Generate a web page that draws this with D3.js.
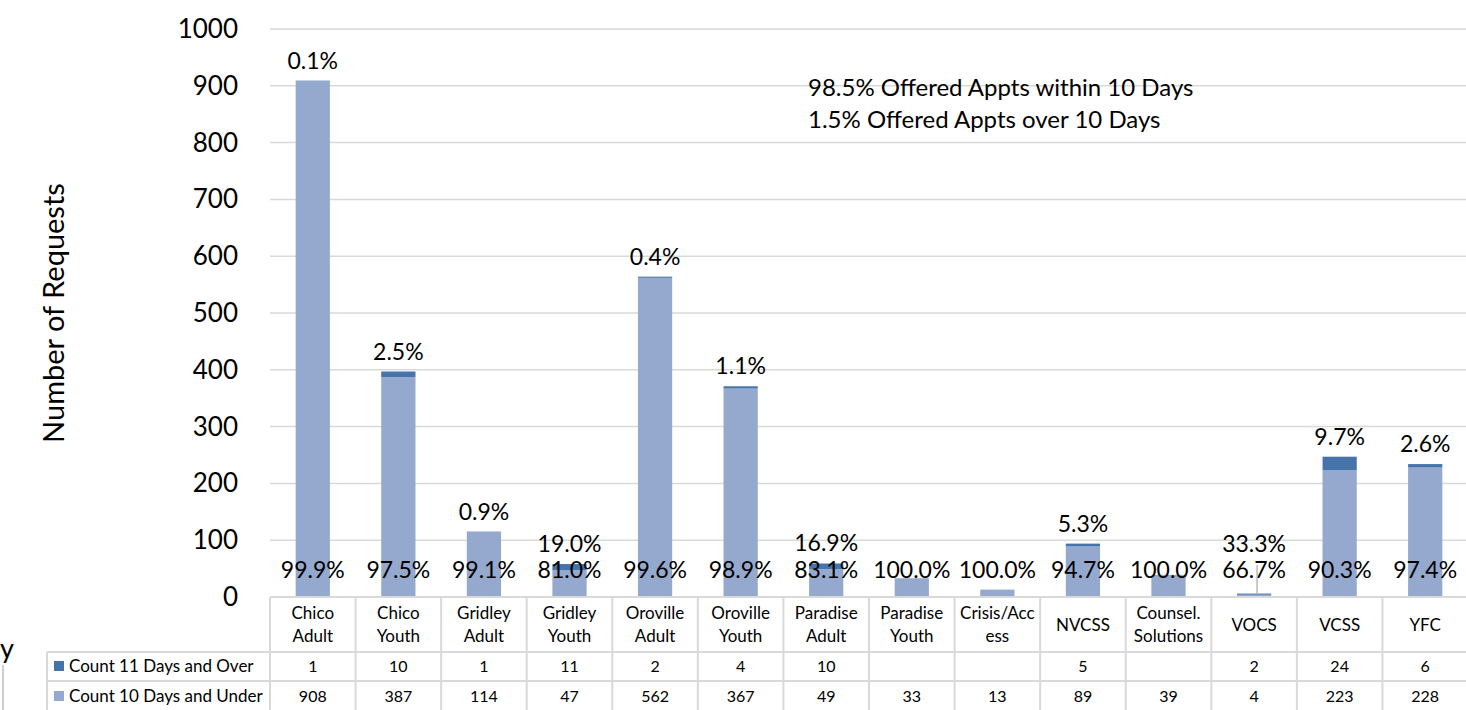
<!DOCTYPE html>
<html>
<head>
<meta charset="utf-8">
<script src="https://cdn.jsdelivr.net/npm/d3@7"></script>
<style>
  body { margin: 0; background: #fff; }
  svg { display: block; }
</style>
</head>
<body>
<script>
// chart data
const categories = ["Chico Adult", "Chico Youth", "Gridley Adult", "Gridley Youth", "Oroville Adult",
  "Oroville Youth", "Paradise Adult", "Paradise Youth", "Crisis/Access", "NVCSS",
  "Counsel. Solutions", "VOCS", "VCSS", "YFC"];
const categoryLines = [["Chico", "Adult"], ["Chico", "Youth"], ["Gridley", "Adult"], ["Gridley", "Youth"],
  ["Oroville", "Adult"], ["Oroville", "Youth"], ["Paradise", "Adult"], ["Paradise", "Youth"],
  ["Crisis/Acc", "ess"], ["NVCSS"], ["Counsel.", "Solutions"], ["VOCS"], ["VCSS"], ["YFC"]];
const over10 = [1, 10, 1, 11, 2, 4, 10, null, null, 5, null, 2, 24, 6];
const under10 = [908, 387, 114, 47, 562, 367, 49, 33, 13, 89, 39, 4, 223, 228];
const seriesNames = ["Count 11 Days and Over", "Count 10 Days and Under"];
const yTicks = [0, 100, 200, 300, 400, 500, 600, 700, 800, 900, 1000];
const notes = ["98.5% Offered Appts within 10 Days", "1.5% Offered Appts over 10 Days"];

const W = 1466, H = 710;
const plotLeft = 270, plotRight = 1468, plotTop = 29, plotBase = 597;
const colorOver = "#4673a9", colorUnder = "#95a9cf";
const gridColor = "#d9d9d9";
const sans = "Lato, 'Open Sans', sans-serif";

const svg = d3.select("body").append("svg")
  .attr("width", W)
  .attr("height", H);

let x = d3.scaleBand().domain(categories).range([plotLeft, plotRight]).paddingInner(0.6).paddingOuter(0.3);
let col = d3.scaleBand().domain(categories).range([plotLeft, plotRight]).padding(0);
let y = d3.scaleLinear().domain([0, 1000]).range([plotBase, plotTop]);

// gridlines
svg.append("g").selectAll("line")
  .data(yTicks.filter((d) => d > 0))
  .join("line")
  .attr("x1", plotLeft).attr("x2", W)
  .attr("y1", (d) => y(d)).attr("y2", (d) => y(d))
  .attr("stroke", gridColor)
  .attr("stroke-width", 1.5);

// y tick labels
svg.append("g").selectAll("text")
  .data(yTicks)
  .join("text")
  .attr("x", 238)
  .attr("y", (d) => y(d) + 9)
  .attr("text-anchor", "end")
  .style("font-family", sans)
  .style("font-size", "26px")
  .style("fill", "#000")
  .text((d) => d);

svg.append("text")
  .attr("transform", "translate(64,313) rotate(-90)")
  .attr("text-anchor", "middle")
  .style("font-family", sans)
  .style("font-size", "29px")
  .text("Number of Requests");

// bars
let rows = categories.map((c, i) => ({
  cat: c,
  over: over10[i] || 0,
  hasOver: over10[i] != null,
  under: under10[i]
}));

let bars = svg.append("g");
bars.selectAll("rect.under")
  .data(rows)
  .join("rect")
  .attr("class", "under")
  .attr("x", (d) => x(d.cat))
  .attr("width", x.bandwidth())
  .attr("y", (d) => y(d.under))
  .attr("height", (d) => y(0) - y(d.under))
  .attr("fill", colorUnder);

bars.selectAll("rect.over")
  .data(rows.filter((d) => d.over > 0))
  .join("rect")
  .attr("class", "over")
  .attr("x", (d) => x(d.cat))
  .attr("width", x.bandwidth())
  .attr("y", (d) => y(d.under + d.over))
  .attr("height", (d) => y(d.under) - y(d.under + d.over))
  .attr("fill", colorOver);

// percent labels
let pct = d3.format(".1%");
let labels = svg.append("g")
  .style("font-family", sans)
  .style("font-size", "23px")
  .attr("text-anchor", "middle");

labels.selectAll("text.low")
  .data(rows)
  .join("text")
  .attr("class", "low")
  .attr("x", (d) => x(d.cat) + x.bandwidth() / 2)
  .attr("y", plotBase - 19)
  .text((d) => pct(d.under / (d.under + d.over)));

// top label sits ~20px above the stack, but never lower than the row above the base labels
let topY = (d) => Math.min(y(d.under + d.over) - 20, plotBase - 53);
let hi = rows.filter((d) => d.hasOver);

labels.selectAll("text.high")
  .data(hi)
  .join("text")
  .attr("class", "high")
  .attr("x", (d) => x(d.cat) + x.bandwidth() / 2)
  .attr("y", (d) => topY(d) + 8)
  .text((d) => pct(d.over / (d.under + d.over)));

// leader line where the label was pushed away from its bar
svg.append("g").selectAll("line")
  .data(hi.filter((d) => y(d.under + d.over) - 20 - topY(d) > 15))
  .join("line")
  .attr("x1", (d) => x(d.cat) + x.bandwidth() / 2 + 3)
  .attr("x2", (d) => x(d.cat) + x.bandwidth() / 2 + 3)
  .attr("y1", plotBase - 32)
  .attr("y2", (d) => y(d.under + d.over))
  .attr("stroke", "#a6a6a6")
  .attr("stroke-width", 1.2);

// annotation
svg.append("g").selectAll("text")
  .data(notes)
  .join("text")
  .attr("x", 808)
  .attr("y", (d, i) => 96 + i * 32)
  .style("font-family", sans)
  .style("font-size", "24px")
  .text((d) => d);

// data table
const rowTop = [597, 652, 681, 710];
let table = svg.append("g");
let hLines = [
  { x1: plotLeft, y: rowTop[0] },
  { x1: 47, y: rowTop[1] },
  { x1: 47, y: rowTop[2] }
];
table.selectAll("line.h")
  .data(hLines)
  .join("line")
  .attr("class", "h")
  .attr("x1", (d) => d.x1).attr("x2", W)
  .attr("y1", (d) => d.y).attr("y2", (d) => d.y)
  .attr("stroke", gridColor).attr("stroke-width", 2);

table.selectAll("line.v")
  .data(categories)
  .join("line")
  .attr("class", "v")
  .attr("x1", (d) => col(d)).attr("x2", (d) => col(d))
  .attr("y1", rowTop[0]).attr("y2", H)
  .attr("stroke", gridColor).attr("stroke-width", 2);

table.append("line")
  .attr("x1", 47).attr("x2", 47)
  .attr("y1", rowTop[1]).attr("y2", H)
  .attr("stroke", gridColor).attr("stroke-width", 2);

let catText = table.selectAll("text.cat")
  .data(categories)
  .join("text")
  .attr("class", "cat")
  .attr("text-anchor", "middle")
  .style("font-family", sans)
  .style("font-size", "17px");

catText.each(function (d, i) {
  let lines = categoryLines[i];
  let cx = col(d) + col.bandwidth() / 2;
  let y0 = lines.length === 1 ? 631 : 619;
  d3.select(this).selectAll("tspan")
    .data(lines)
    .join("tspan")
    .attr("x", cx)
    .attr("y", (t, j) => y0 + j * 23)
    .text((t) => t);
});

let seriesRows = [
  { name: seriesNames[0], color: colorOver, values: over10, mid: 666 },
  { name: seriesNames[1], color: colorUnder, values: under10, mid: 696 }
];

seriesRows.forEach((r) => {
  table.append("rect")
    .attr("x", 54).attr("y", r.mid - 5)
    .attr("width", 10).attr("height", 10)
    .attr("fill", r.color);
  table.append("text")
    .attr("x", 69).attr("y", r.mid + 6)
    .style("font-family", sans)
    .style("font-size", "17px")
    .text(r.name);
  table.append("g").selectAll("text")
    .data(categories)
    .join("text")
    .attr("x", (d) => col(d) + col.bandwidth() / 2)
    .attr("y", r.mid + 6)
    .attr("text-anchor", "middle")
    .style("font-family", sans)
    .style("font-size", "16px")
    .text((d, i) => r.values[i] == null ? "" : r.values[i]);
});

// leftover bits at the left edge
svg.append("text")
  .attr("x", 0).attr("y", 658)
  .style("font-family", sans)
  .style("font-size", "27px")
  .text("y");
svg.append("line")
  .attr("x1", 3).attr("x2", 3)
  .attr("y1", 665).attr("y2", H)
  .attr("stroke", "#bfbfbf").attr("stroke-width", 1.5);
</script>
</body>
</html>
